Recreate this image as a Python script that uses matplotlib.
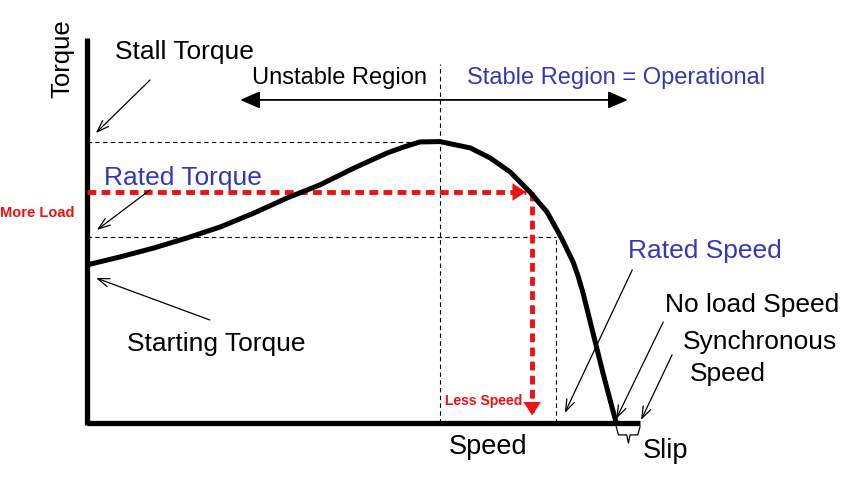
import matplotlib
matplotlib.use('Agg')
import matplotlib.pyplot as plt

plt.rcParams['font.family'] = ['Liberation Sans', 'DejaVu Sans']

# torque-speed curve, speed in % of synchronous, torque in % of rated
speed = [0, 6.0, 12.1, 18.1, 24.1, 30.2, 36.2, 42.1, 48.3, 54.3, 57.3, 60.2,
         63.8, 69.3, 72.9, 76.5, 80.1, 83.2, 85.7, 87.9, 88.8, 89.7, 91.5,
         93.3, 94.5, 95.7]
torque = [85.0, 89.3, 94.1, 99.5, 105.4, 112.9, 121.0, 128.0, 137.1, 145.2,
          148.4, 151.1, 151.3, 147.9, 142.5, 135.0, 124.2, 113.4, 100.0, 86.6,
          79.0, 69.9, 48.4, 26.9, 13.4, 0]

stall_speed, stall_torque = 63.8, 151.3
rated_speed, rated_torque = 84.8, 100.0
less_speed, more_load = 80.5, 124.2
start_torque = 85.0
no_load_speed = 95.7
sync_speed = 100.0
torque_axis_top = 207

BLUE = '#3636b8'
RED = '#ee1111'

# pixel scale of the original picture
sx, sy = 5.53, 1.86

fig = plt.figure(figsize=(8.62, 4.82), dpi=100)
ax = fig.add_axes([0, 0, 1, 1])
ax.set_xlim(-87 / sx, 775 / sx)
ax.set_ylim(-59 / sy, 423 / sy)
ax.axis('off')

# axes
ax.plot([0, 0], [-1.2, torque_axis_top], color='black', lw=3.8, solid_capstyle='butt')
ax.plot([0, sync_speed], [0, 0], color='black', lw=3.8, solid_capstyle='butt')

# thin dashed guide lines
dash = dict(color='black', lw=0.8, ls=(0, (4, 3)))
ax.plot([0, stall_speed], [stall_torque, stall_torque], **dash)
ax.plot([stall_speed, stall_speed], [0, 193], **dash)
ax.plot([0, rated_speed], [rated_torque, rated_torque], **dash)
ax.plot([rated_speed, rated_speed], [0, rated_torque], **dash)

# red more load / less speed
ax.plot([0, less_speed - 1.2], [more_load, more_load], color=RED, lw=3.5, ls=(0, (1.8, 1.1)))
ax.plot([less_speed, less_speed], [more_load, 4], color=RED, lw=3.5, ls=(0, (1.8, 1.1)))
ax.annotate('', xy=(less_speed - 0.6, more_load), xytext=(less_speed - 3, more_load),
            arrowprops=dict(arrowstyle='-|>,head_length=0.7,head_width=0.45', color=RED,
                            lw=0, mutation_scale=14))
ax.annotate('', xy=(less_speed, 2.5), xytext=(less_speed, 10),
            arrowprops=dict(arrowstyle='-|>,head_length=0.7,head_width=0.45', color=RED,
                            lw=0, mutation_scale=14))

# the curve
ax.plot(speed, torque, color='black', lw=3.6, solid_joinstyle='round', solid_capstyle='butt')

# region arrow
ax.annotate('', xy=(27.7, 173.7), xytext=(97.8, 173.7),
            arrowprops=dict(arrowstyle='<|-|>,head_length=0.8,head_width=0.35', color='black',
                            lw=1.3, mutation_scale=15, shrinkA=0, shrinkB=0))

fs = 19
ax.text(-4.5, 195.7, 'Torque', rotation=90, ha='center', va='center', fontsize=18.5)
ax.text(5.1, 199.5, 'Stall Torque', ha='left', va='center', fontsize=19)
ax.text(29.8, 185.5, 'Unstable Region', ha='left', va='center', fontsize=17)
ax.text(68.7, 185.5, 'Stable Region = Operational', ha='left', va='center', fontsize=17, color=BLUE)
ax.text(3.1, 131.7, 'Rated Torque', ha='left', va='center', fontsize=fs, color=BLUE)
ax.text(-15.7, 112.9, 'More Load', ha='left', va='center', fontsize=10.5, color=RED, fontweight='bold')
ax.text(7.2, 42.5, 'Starting Torque', ha='left', va='center', fontsize=fs)
ax.text(97.8, 92.5, 'Rated Speed', ha='left', va='center', fontsize=fs, color=BLUE)
ax.text(104.5, 63.4, 'No load Speed', ha='left', va='center', fontsize=fs)
ax.text(107.8, 43.5, 'Synchronous', ha='left', va='center', fontsize=fs)
ax.text(109.0, 26.3, 'Speed', ha='left', va='center', fontsize=fs)
ax.text(78.7, 11.8, 'Less Speed', ha='right', va='center', fontsize=10, color=RED, fontweight='bold')
ax.text(65.5, -12.9, 'Speed', ha='left', va='center', fontsize=19.5)
ax.text(100.5, -15.0, 'Slip', ha='left', va='center', fontsize=19.5)

# pointer arrows
pointers = [((11.4, 184.4), (1.6, 155.9)),
            ((11.4, 125.3), (1.8, 103.8)),
            ((22.2, 55.4), (1.6, start_torque - 7.0)),
            ((98.6, 82.3), (86.4, 5.4)),
            ((104.2, 54.3), (no_load_speed, 2.2)),
            ((105.8, 36.6), (sync_speed + 0.2, 1.6))]
for start, end in pointers:
    ax.annotate('', xy=end, xytext=start,
                arrowprops=dict(arrowstyle='->,head_length=0.7,head_width=0.25', color='black',
                                lw=0.9, mutation_scale=12, shrinkA=0, shrinkB=0))

# slip bracket
bx = [no_load_speed, no_load_speed + 0.4, 97.6, 97.9, 98.2, 99.6, sync_speed]
by = [-2.0, -6.4, -6.4, -10.8, -6.4, -6.4, -2.0]
ax.plot(bx, by, color='black', lw=0.9)

fig.savefig('out.png', dpi=100)
